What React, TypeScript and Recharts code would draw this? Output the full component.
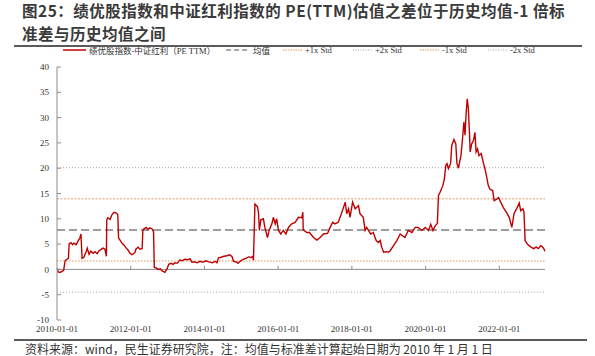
import React from 'react';
import { LineChart, Line, XAxis, YAxis, ReferenceLine } from 'recharts';

// decimal years
const years = [
  2010.01, 2010.03, 2010.08, 2010.14, 2010.18, 2010.22, 2010.27, 2010.31, 2010.33, 2010.38,
  2010.42, 2010.46, 2010.52, 2010.57, 2010.62, 2010.65, 2010.68, 2010.73, 2010.79, 2010.82,
  2010.87, 2010.92, 2010.98, 2011.03, 2011.09, 2011.14, 2011.19, 2011.25, 2011.3, 2011.34,
  2011.35, 2011.38, 2011.44, 2011.49, 2011.53, 2011.57, 2011.63, 2011.65, 2011.67, 2011.71,
  2011.76, 2011.82, 2011.87, 2011.93, 2011.98, 2012.03, 2012.06, 2012.12, 2012.14, 2012.2,
  2012.25, 2012.31, 2012.33, 2012.36, 2012.42, 2012.47, 2012.52, 2012.58, 2012.62, 2012.64,
  2012.69, 2012.74, 2012.8, 2012.85, 2012.93, 2012.99, 2013.03, 2013.09, 2013.15, 2013.2,
  2013.26, 2013.34, 2013.39, 2013.47, 2013.55, 2013.61, 2013.66, 2013.72, 2013.8, 2013.88,
  2013.96, 2014.04, 2014.12, 2014.21, 2014.29, 2014.34, 2014.38, 2014.45, 2014.53, 2014.61,
  2014.69, 2014.75, 2014.79, 2014.86, 2014.91, 2014.97, 2015.05, 2015.13, 2015.21, 2015.26,
  2015.31, 2015.33, 2015.37, 2015.44, 2015.47, 2015.49, 2015.53, 2015.6, 2015.64, 2015.71,
  2015.76, 2015.83, 2015.87, 2015.92, 2015.96, 2016.01, 2016.07, 2016.14, 2016.21, 2016.28,
  2016.37, 2016.46, 2016.55, 2016.64, 2016.67, 2016.68, 2016.78, 2016.85, 2016.96, 2017.05,
  2017.14, 2017.23, 2017.34, 2017.41, 2017.48, 2017.54, 2017.63, 2017.73, 2017.82, 2017.86,
  2017.91, 2017.95, 2018.02, 2018.09, 2018.18, 2018.22, 2018.27, 2018.31, 2018.36, 2018.4,
  2018.45, 2018.51, 2018.58, 2018.66, 2018.72, 2018.77, 2018.81, 2018.86, 2018.93, 2018.99,
  2019.04, 2019.13, 2019.22, 2019.31, 2019.38, 2019.44, 2019.53, 2019.63, 2019.72, 2019.8,
  2019.9, 2019.99, 2020.08, 2020.14, 2020.2, 2020.26, 2020.32, 2020.35, 2020.39, 2020.47,
  2020.51, 2020.55, 2020.58, 2020.62, 2020.68, 2020.71, 2020.77, 2020.82, 2020.85, 2020.89,
  2020.96, 2021.01, 2021.04, 2021.07, 2021.1, 2021.13, 2021.16, 2021.19, 2021.21, 2021.25,
  2021.3, 2021.34, 2021.37, 2021.41, 2021.45, 2021.51, 2021.57, 2021.61, 2021.66, 2021.7,
  2021.75, 2021.82, 2021.86, 2021.93, 2021.98, 2022.02, 2022.11, 2022.2, 2022.27, 2022.34,
  2022.4, 2022.47, 2022.54, 2022.58, 2022.64, 2022.67, 2022.7, 2022.76, 2022.84, 2022.93,
  2023.0, 2023.06, 2023.13, 2023.2, 2023.24,
];

// 绩优股指数-中证红利 PE(TTM) spread
const spread = [
  0.2, -0.5, -0.6, -0.4, -0.2, 1.7, 2.0, 2.2, 5.1, 5.3,
  4.9, 5.2, 4.9, 5.6, 6.2, 7.0, 2.2, 2.4, 3.5, 4.2,
  3.0, 3.6, 3.2, 3.5, 3.1, 3.7, 3.9, 4.2, 4.0, 2.6,
  9.8, 10.2, 9.9, 10.8, 11.2, 11.3, 11.0, 10.8, 6.2, 5.8,
  5.2, 4.8, 4.3, 3.8, 3.2, 2.9, 3.0, 3.4, 4.0, 4.4,
  4.0, 4.1, 7.8, 8.0, 8.3, 7.9, 8.2, 8.0, 7.4, 0.4,
  0.3, 0.0, 0.1, -0.3, -0.6, 0.2, 1.0, 1.2, 1.0, 1.3,
  1.2, 1.9, 1.7, 2.0, 1.9, 2.1, 1.4, 1.5, 1.3, 1.6,
  1.4, 1.7, 1.5, 1.3, 1.6, 1.3, 2.3, 2.4, 2.6, 2.7,
  2.9, 2.5, 1.6, 1.5, 1.2, 1.6, 2.0, 2.2, 2.5, 2.3,
  2.6, 1.8, 12.9, 12.4, 11.0, 7.7, 9.8, 10.0, 8.3, 6.3,
  7.8, 9.0, 10.3, 9.0, 10.0, 7.7, 7.0, 7.7, 7.0, 8.3,
  9.0, 9.3, 10.3, 10.2, 11.3, 7.8, 7.3, 7.3, 6.3, 5.8,
  6.3, 7.0, 7.1, 8.3, 9.3, 9.0, 9.3, 11.3, 13.3, 11.0,
  12.0, 10.3, 13.3, 12.0, 12.6, 11.0, 10.6, 10.3, 7.7, 8.3,
  7.7, 7.0, 7.3, 5.7, 5.3, 5.7, 4.4, 3.4, 3.5, 3.4,
  3.7, 4.7, 5.7, 7.0, 6.6, 6.3, 7.7, 7.3, 8.3, 8.3,
  7.7, 8.3, 7.7, 8.9, 7.7, 8.6, 9.1, 14.6, 15.2, 16.6,
  17.9, 20.6, 20.9, 19.9, 21.0, 24.5, 25.7, 24.8, 21.0, 20.0,
  22.5, 26.5, 29.1, 26.5, 30.8, 33.7, 31.8, 27.1, 23.2, 24.8,
  25.5, 27.1, 23.2, 23.8, 22.5, 22.9, 21.0, 19.9, 18.2, 16.6,
  15.8, 15.6, 13.6, 13.9, 14.2, 13.6, 12.2, 11.2, 10.3, 8.3,
  11.0, 12.0, 13.1, 11.6, 12.0, 11.3, 5.7, 5.0, 4.5, 4.1,
  4.4, 4.1, 4.7, 4.2, 3.6,
];

const xTicks = [2010, 2012, 2014, 2016, 2018, 2020, 2022];
const yTicks = [-10, -5, 0, 5, 10, 15, 20, 25, 30, 35, 40];
const meanValue = 7.8;
const stdValue = 6.15;

const chartData = years.map((t, i) => ({ t, v: spread[i] }));

const RED = '#C00000';
const ORANGE = '#E39A63';
const GREY = '#A6A6A6';
const serif = '"Liberation Serif", "DejaVu Serif", "Noto Sans CJK SC", serif';
const cjk = '"Noto Sans CJK SC", sans-serif';

const legendItems = [
  { label: '绩优股指数-中证红利（PE TTM）', left: 63, w: 23, color: RED, dash: undefined, sw: 1.5 },
  { label: '均值', left: 226, w: 24, color: '#595959', dash: '5 3', sw: 1.2 },
  { label: '+1x Std', left: 283, w: 19, color: ORANGE, dash: '1.5 1', sw: 1 },
  { label: '+2x Std', left: 353, w: 19, color: GREY, dash: '1 1.5', sw: 1 },
  { label: '-1x Std', left: 420, w: 19, color: ORANGE, dash: '1.5 1', sw: 1 },
  { label: '-2x Std', left: 488, w: 19, color: GREY, dash: '1 1.5', sw: 1 },
];

const titleStyle: React.CSSProperties = {
  position: 'absolute',
  left: 22,
  fontFamily: cjk,
  fontWeight: 700,
  fontSize: 15.5,
  letterSpacing: 0.5,
  lineHeight: '19px',
  height: 19,
  color: '#3a3a3a',
  whiteSpace: 'nowrap',
};

export default function App() {
  return (
    <div style={{ position: 'absolute', left: 0, top: 0, width: 595, height: 356, background: '#fff', overflow: 'hidden' }}>
      <div style={{ ...titleStyle, top: 1 }}>图25：绩优股指数和中证红利指数的 PE(TTM)估值之差位于历史均值-1 倍标</div>
      <div style={{ ...titleStyle, top: 24 }}>准差与历史均值之间</div>
      <div style={{ position: 'absolute', left: 14, top: 45, width: 568, height: 2, background: '#5a5a5a' }} />

      {legendItems.map((it) => (
        <div key={it.label} style={{ position: 'absolute', left: it.left, top: 44, height: 12, display: 'flex', alignItems: 'center', whiteSpace: 'nowrap' }}>
          <svg width={it.w} height={12}>
            <line x1={0} y1={6} x2={it.w} y2={6} stroke={it.color} strokeWidth={it.sw} strokeDasharray={it.dash} />
          </svg>
          <span style={{ marginLeft: 3, fontFamily: serif, fontSize: 8.5, color: '#333' }}>{it.label}</span>
        </div>
      ))}

      <div style={{ position: 'absolute', left: 0, top: 55 }}>
        <LineChart width={595} height={295} data={chartData} margin={{ top: 12, right: 50, bottom: 10, left: 0 }}>
          <XAxis
            dataKey="t"
            type="number"
            domain={[2010, 2023.24]}
            ticks={xTicks}
            tickFormatter={(v: number) => `${v}-01-01`}
            axisLine={false}
            tickLine={false}
            tickSize={0}
            tickMargin={6}
            height={20}
            tick={{ fontSize: 9, fontFamily: serif, fill: '#333' }}
          />
          <YAxis
            domain={[-10, 40]}
            ticks={yTicks}
            width={57}
            axisLine={{ stroke: '#8c8c8c' }}
            tickLine={{ stroke: '#8c8c8c' }}
            tickSize={-4}
            tickMargin={12}
            tick={{ fontSize: 9, fontFamily: serif, fill: '#333' }}
          />
          <ReferenceLine y={stdValue * 2 + meanValue} stroke={GREY} strokeDasharray="1 2" />
          <ReferenceLine y={meanValue + stdValue} stroke={ORANGE} strokeDasharray="2 1.5" />
          <ReferenceLine y={meanValue - stdValue} stroke={ORANGE} strokeWidth={1.5} strokeDasharray="1.5 1.5" strokeOpacity={0.7} />
          <ReferenceLine y={meanValue - stdValue * 2} stroke={GREY} strokeDasharray="1 2" />
          <ReferenceLine y={meanValue} stroke="#7f7f7f" strokeWidth={1.5} strokeDasharray="8 4" />
          <ReferenceLine y={0} stroke="#8c8c8c" />
          {xTicks.slice(1).map((t) => (
            <ReferenceLine key={t} segment={[{ x: t, y: 0 }, { x: t, y: 0.7 }]} stroke="#8c8c8c" />
          ))}
          <Line type="linear" dataKey="v" stroke={RED} strokeWidth={1.4} dot={false} isAnimationActive={false} />
        </LineChart>
      </div>

      <div style={{ position: 'absolute', left: 14, top: 339, width: 573, height: 1.5, background: '#5a5a5a' }} />
      <div style={{ position: 'absolute', left: 25, top: 341, fontFamily: cjk, fontSize: 12, lineHeight: '15px', color: '#333', whiteSpace: 'nowrap' }}>
        资料来源：wind，民生证券研究院，注：均值与标准差计算起始日期为 2010 年 1 月 1 日
      </div>
    </div>
  );
}
